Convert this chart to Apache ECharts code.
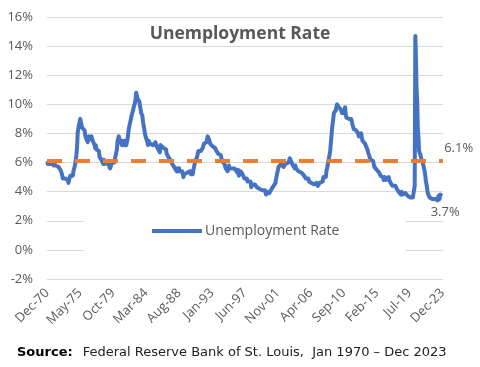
<!DOCTYPE html>
<html><head><meta charset="utf-8">
<script src="https://cdn.jsdelivr.net/npm/echarts@6/dist/echarts.min.js"></script>
<style>html,body{margin:0;padding:0;background:#fff}#c{width:480px;height:367px}</style>
</head><body><div id="c"></div>
<script>
// Monthly US unemployment rate (%), Dec 1970 .. Dec 2023
const startYear = 1970, startMonth = 11; // Dec 1970 (0-based month)
const rate1970s = [6.1,
 5.9,5.9,6.0,5.9,5.9,5.9,6.0,6.1,6.0,5.8,6.0,6.0,
 5.8,5.7,5.8,5.7,5.7,5.7,5.6,5.6,5.5,5.6,5.3,5.2,
 4.9,5.0,4.9,5.0,4.9,4.9,4.8,4.8,4.8,4.6,4.8,4.9,
 5.1,5.2,5.1,5.1,5.1,5.4,5.5,5.5,5.9,6.0,6.6,7.2,
 8.1,8.1,8.6,8.8,9.0,8.8,8.6,8.4,8.4,8.4,8.3,8.2,
 7.9,7.7,7.6,7.7,7.4,7.6,7.8,7.8,7.6,7.7,7.8,7.8,
 7.5,7.6,7.4,7.2,7.0,7.2,6.9,7.0,6.8,6.8,6.8,6.4,
 6.4,6.3,6.3,6.1,6.0,5.9,6.2,5.9,6.0,5.8,5.9,6.0,
 5.9,5.9,5.8,5.8,5.6,5.7,5.7,6.0,5.9,6.0,5.9,6.0];
const rate1980s = [
 6.3,6.3,6.3,6.9,7.5,7.6,7.8,7.7,7.5,7.5,7.5,7.2,
 7.5,7.4,7.4,7.2,7.5,7.5,7.2,7.4,7.6,7.9,8.3,8.5,
 8.6,8.9,9.0,9.3,9.4,9.6,9.8,9.8,10.1,10.4,10.8,10.8,
 10.4,10.4,10.3,10.2,10.1,10.1,9.4,9.5,9.2,8.8,8.5,8.3,
 8.0,7.8,7.8,7.7,7.4,7.2,7.5,7.5,7.3,7.4,7.2,7.3,
 7.3,7.2,7.2,7.3,7.2,7.4,7.4,7.1,7.1,7.1,7.0,7.0,
 6.7,7.2,7.2,7.1,7.2,7.2,7.0,6.9,7.0,7.0,6.9,6.6,
 6.6,6.6,6.6,6.3,6.3,6.2,6.1,6.0,5.9,6.0,5.8,5.7,
 5.7,5.7,5.7,5.4,5.6,5.4,5.4,5.6,5.4,5.4,5.3,5.3,
 5.4,5.2,5.0,5.2,5.2,5.3,5.2,5.2,5.3,5.3,5.4,5.4];
const rate1990s = [
 5.4,5.3,5.2,5.4,5.4,5.2,5.5,5.7,5.9,5.9,6.2,6.3,
 6.4,6.6,6.8,6.7,6.9,6.9,6.8,6.9,6.9,7.0,7.0,7.3,
 7.3,7.4,7.4,7.4,7.6,7.8,7.7,7.6,7.6,7.3,7.4,7.4,
 7.3,7.1,7.0,7.1,7.1,7.0,6.9,6.8,6.7,6.8,6.6,6.5,
 6.6,6.6,6.5,6.4,6.1,6.1,6.1,6.0,5.9,5.8,5.6,5.5,
 5.6,5.4,5.4,5.8,5.6,5.6,5.7,5.7,5.6,5.5,5.6,5.6,
 5.6,5.5,5.5,5.6,5.6,5.3,5.5,5.1,5.2,5.2,5.4,5.4,
 5.3,5.2,5.2,5.1,4.9,5.0,4.9,4.8,4.9,4.7,4.6,4.7,
 4.6,4.6,4.7,4.3,4.4,4.5,4.5,4.5,4.6,4.5,4.4,4.4,
 4.3,4.4,4.2,4.3,4.2,4.3,4.3,4.2,4.2,4.1,4.1,4.0];
const rate2000s = [
 4.0,4.1,4.0,3.8,4.0,4.0,4.0,4.1,3.9,3.9,3.9,3.9,
 4.2,4.2,4.3,4.4,4.3,4.5,4.6,4.9,5.0,5.3,5.5,5.7,
 5.7,5.7,5.7,5.9,5.8,5.8,5.8,5.7,5.7,5.7,5.9,6.0,
 5.8,5.9,5.9,6.0,6.1,6.3,6.2,6.1,6.1,6.0,5.8,5.7,
 5.7,5.6,5.8,5.6,5.6,5.6,5.5,5.4,5.4,5.5,5.4,5.4,
 5.3,5.4,5.2,5.2,5.1,5.0,5.0,4.9,5.0,5.0,5.0,4.9,
 4.7,4.8,4.7,4.7,4.6,4.6,4.7,4.7,4.5,4.4,4.5,4.4,
 4.6,4.5,4.4,4.5,4.4,4.6,4.7,4.6,4.7,4.7,4.7,5.0,
 5.0,4.9,5.1,5.0,5.4,5.6,5.8,6.1,6.1,6.5,6.8,7.3,
 7.8,8.3,8.7,9.0,9.4,9.5,9.5,9.6,9.8,10.0,9.9,9.9];
const rate2010s = [
 9.8,9.8,9.9,9.9,9.6,9.4,9.4,9.5,9.5,9.4,9.8,9.3,
 9.1,9.0,9.0,9.1,9.0,9.1,9.0,9.0,9.0,8.8,8.6,8.5,
 8.3,8.3,8.2,8.2,8.2,8.2,8.2,8.0,7.8,7.8,7.7,7.9,
 8.0,7.7,7.5,7.6,7.5,7.5,7.3,7.2,7.2,7.2,6.9,6.7,
 6.6,6.7,6.7,6.2,6.3,6.1,6.2,6.1,5.9,5.7,5.8,5.6,
 5.7,5.5,5.4,5.4,5.6,5.3,5.2,5.1,5.0,5.0,5.1,5.0,
 4.8,4.9,5.0,5.1,4.8,4.9,4.8,4.9,5.0,4.9,4.7,4.7,
 4.7,4.6,4.4,4.4,4.4,4.3,4.3,4.4,4.3,4.2,4.2,4.1,
 4.0,4.1,4.0,4.0,3.8,4.0,3.8,3.8,3.7,3.8,3.8,3.9,
 4.0,3.8,3.8,3.7,3.6,3.6,3.7,3.6,3.5,3.6,3.6,3.6];
const rate2020s = [
 3.5,3.5,4.4,14.7,13.2,11.0,10.2,8.4,7.8,6.8,6.7,6.7,
 6.4,6.2,6.1,6.1,5.8,5.9,5.4,5.1,4.7,4.5,4.2,3.9,
 4.0,3.8,3.6,3.7,3.6,3.6,3.5,3.6,3.5,3.6,3.6,3.5,
 3.4,3.6,3.5,3.4,3.7,3.6,3.5,3.8,3.8,3.8,3.7,3.7];
const averageRate = 6.1;
const yTicks = [-2,0,2,4,6,8,10,12,14,16];
const seriesName = 'Unemployment Rate';

const values = [].concat(rate1970s, rate1980s, rate1990s, rate2000s, rate2010s, rate2020s);
const monthNames = ['Jan','Feb','Mar','Apr','May','Jun','Jul','Aug','Sep','Oct','Nov','Dec'];
const categories = values.map((v, i) => {
  const m = startMonth + i;
  const y = startYear + Math.floor(m / 12);
  return monthNames[m % 12] + '-' + String(y % 100).padStart(2, '0');
});
const lastIdx = values.length - 1;

const chart = echarts.init(document.getElementById('c'), null, {renderer: 'canvas'});
const grey = '#595959';
chart.setOption({
  animation: false,
  backgroundColor: '#ffffff',
  title: [{
    text: 'Unemployment Rate', left: 'center', top: 20,
    textStyle: {color: grey, fontSize: 17.5, fontWeight: 'bold', fontFamily: 'Open Sans'}
  }, {
    text: '{b|Source:}  {n|Federal Reserve Bank of St. Louis,  Jan 1970 \u2013 Dec 2023}',
    left: 12, top: 339,
    textStyle: {fontWeight: 'normal', rich: {
      b: {fontFamily: 'DejaVu Sans', fontSize: 13, fontWeight: 'bold', color: '#000'},
      n: {fontFamily: 'DejaVu Sans', fontSize: 13, fontWeight: 'normal', color: '#222'}
    }}
  }],
  legend: {
    data: [seriesName], left: 84, top: 203,
    padding: [21, 66, 21, 68],
    backgroundColor: '#ffffff',
    icon: 'rect', itemWidth: 50, itemHeight: 4, itemGap: 0,
    textStyle: {color: grey, fontSize: 14, fontFamily: 'Open Sans', padding: [0, 0, 0, -2]}
  },
  grid: {left: 47, right: 37, top: 17, bottom: 88},
  xAxis: {
    type: 'category', data: categories, boundaryGap: true,
    axisLine: {show: false}, axisTick: {show: false},
    axisLabel: {interval: 52, rotate: 45, color: grey, fontSize: 13, fontFamily: 'Open Sans', margin: 12}
  },
  yAxis: {
    type: 'value', min: yTicks[0], max: yTicks[yTicks.length - 1], interval: 2,
    axisLine: {show: false}, axisTick: {show: false},
    axisLabel: {formatter: '{value}%', color: grey, fontSize: 13, fontFamily: 'Open Sans', margin: 14},
    splitLine: {lineStyle: {color: '#d9d9d9', width: 1}}
  },
  series: [{
    name: seriesName, type: 'line', data: values,
    showSymbol: false, symbol: 'none',
    lineStyle: {color: '#4472C4', width: 4, join: 'round'},
    itemStyle: {color: '#4472C4'},
    endLabel: {show: true, formatter: p => p.value.toFixed(1) + '%', offset: [-20, 16],
               color: grey, fontSize: 13, fontFamily: 'Open Sans'},
    markLine: {
      silent: true, symbol: 'none',
      lineStyle: {color: '#ED7D31', width: 4, type: [15, 13]},
      label: {show: false},
      data: [{yAxis: averageRate}]
    },
    markPoint: {
      silent: true, symbol: 'rect', symbolSize: 1,
      itemStyle: {color: 'rgba(0,0,0,0)'},
      label: {show: true, position: 'right', offset: [-4, -13], formatter: averageRate.toFixed(1) + '%',
              color: grey, fontSize: 13, fontFamily: 'Open Sans'},
      data: [{coord: [lastIdx, averageRate]}]
    }
  }]
});
</script></body></html>
